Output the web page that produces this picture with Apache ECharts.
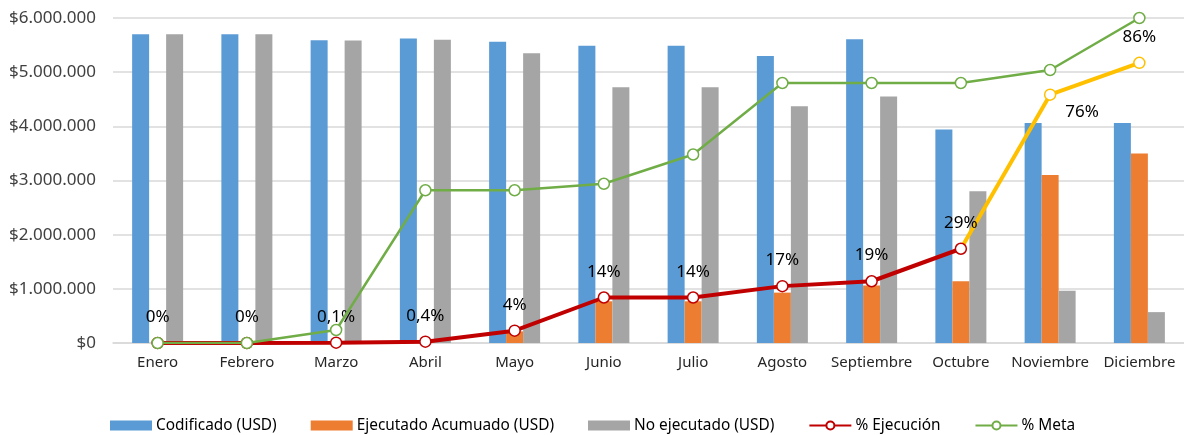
<!DOCTYPE html>
<html>
<head>
<meta charset="utf-8">
<script src="https://cdn.jsdelivr.net/npm/echarts@6/dist/echarts.min.js"></script>
<style>
html,body{margin:0;padding:0;background:#fff;}
#chart{width:1184px;height:435px;}
</style>
</head>
<body>
<div id="chart"></div>
<script>
const categories = ['Enero','Febrero','Marzo','Abril','Mayo','Junio','Julio','Agosto','Septiembre','Octubre','Noviembre','Diciembre'];
const codificado = [5700000,5700000,5590000,5620000,5560000,5490000,5490000,5300000,5610000,3940000,4060000,4060000];
const ejecutado = [0,0,6000,22000,215000,770000,770000,930000,1060000,1140000,3100000,3500000];
const noEjecutado = [5700000,5700000,5585000,5600000,5350000,4720000,4720000,4370000,4550000,2800000,965000,570000];
const pctEjecucion = [0,0,0.001,0.004,0.038,0.14,0.14,0.175,0.19,0.29,0.764,0.862];
const pctEjecucionLabels = ['0%','0%','0,1%','0,4%','4%','14%','14%','17%','19%','29%','76%','86%'];
const pctMeta = [0,0,0.04,0.47,0.47,0.49,0.58,0.80,0.80,0.80,0.84,1.0];
const yTickLabels = ['$0','$1.000.000','$2.000.000','$3.000.000','$4.000.000','$5.000.000','$6.000.000'];

const FONT = 'Noto Sans';
const splitIdx = 9; // Octubre: red up to here, yellow afterwards

const redData = pctEjecucion.map((v, i) => i <= splitIdx ? v : null);
const yellowData = pctEjecucion.map((v, i) => {
  if (i < splitIdx) return null;
  if (i === splitIdx) return { value: v, symbol: 'none', label: { show: false } };
  if (i === 10) return { value: v, label: { position: 'bottom', distance: 3, offset: [32, 0] } };
  return v;
});

const chart = echarts.init(document.getElementById('chart'), null, { renderer: 'canvas' });
const dataLabel = {
  show: true,
  position: 'top',
  distance: 11,
  fontFamily: FONT,
  fontSize: 17,
  color: '#000',
  formatter: p => pctEjecucionLabels[p.dataIndex]
};

chart.setOption({
  animation: false,
  textStyle: { fontFamily: FONT },
  grid: { left: 113, top: 18, width: 1075, height: 325, containLabel: false },
  legend: {
    left: 105,
    top: 413,
    itemWidth: 42,
    itemHeight: 10,
    itemGap: 34,
    textStyle: { fontFamily: FONT, fontSize: 15.4, color: '#000', padding: [0,0,0,-1] },
    data: [
      { name: 'Codificado (USD)', icon: 'rect' },
      { name: 'Ejecutado Acumuado (USD)', icon: 'rect' },
      { name: 'No ejecutado (USD)', icon: 'rect' },
      '% Ejecución',
      '% Meta'
    ]
  },
  xAxis: {
    type: 'category',
    data: categories,
    axisLine: { lineStyle: { color: '#D9D9D9', width: 1.5 } },
    axisTick: { show: false },
    axisLabel: { interval: 0, fontFamily: FONT, fontSize: 15, color: '#262626', margin: 12 }
  },
  yAxis: [
    {
      type: 'value',
      min: 0,
      max: 6000000,
      interval: 1000000,
      axisLine: { show: false },
      axisTick: { show: false },
      splitLine: { lineStyle: { color: '#D9D9D9', width: 1.5 } },
      axisLabel: {
        fontFamily: FONT, fontSize: 17, color: '#404040', margin: 17,
        formatter: v => yTickLabels[Math.round(v / 1000000)]
      }
    },
    { type: 'value', min: 0, max: 1, show: false, splitLine: { show: false } }
  ],
  series: [
    { name: 'Codificado (USD)', type: 'bar', data: codificado, barWidth: 17, barGap: '0%', itemStyle: { color: '#5B9BD5' } },
    { name: 'Ejecutado Acumuado (USD)', type: 'bar', data: ejecutado, barWidth: 17, barGap: '0%', itemStyle: { color: '#ED7D31' } },
    { name: 'No ejecutado (USD)', type: 'bar', data: noEjecutado, barWidth: 17, barGap: '0%', itemStyle: { color: '#A5A5A5' } },
    {
      name: '% Ejecución', type: 'line', yAxisIndex: 1, data: redData,
      symbol: 'circle', symbolSize: 11, showAllSymbol: true,
      lineStyle: { color: '#C00000', width: 4 },
      itemStyle: { color: '#fff', borderColor: '#C00000', borderWidth: 1.5 },
      label: dataLabel, z: 3
    },
    {
      name: 'ejecucion-tramo', type: 'line', yAxisIndex: 1, data: yellowData,
      symbol: 'circle', symbolSize: 11, showAllSymbol: true,
      lineStyle: { color: '#FFC000', width: 4 },
      itemStyle: { color: '#fff', borderColor: '#FFC000', borderWidth: 1.5 },
      label: dataLabel, z: 2
    },
    {
      name: '% Meta', type: 'line', yAxisIndex: 1, data: pctMeta,
      symbol: 'circle', symbolSize: 11, showAllSymbol: true,
      lineStyle: { color: '#70AD47', width: 2.5 },
      itemStyle: { color: '#fff', borderColor: '#70AD47', borderWidth: 1.5 },
      z: 4
    }
  ]
});
</script>
</body>
</html>
